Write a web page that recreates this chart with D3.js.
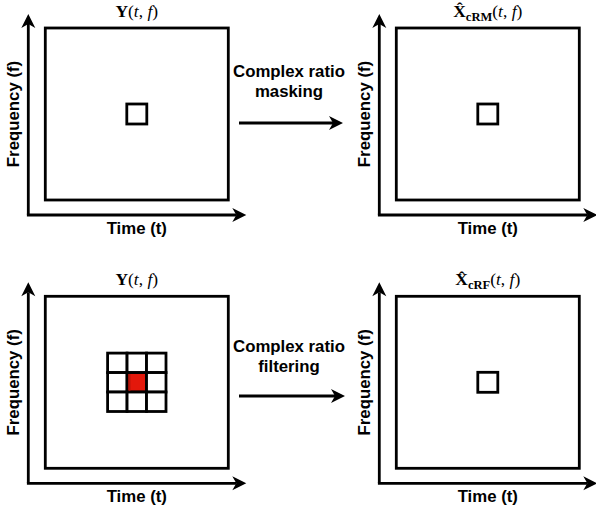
<!DOCTYPE html>
<html>
<head>
<meta charset="utf-8">
<script src="https://cdnjs.cloudflare.com/ajax/libs/d3/7.8.5/d3.min.js"></script>
<style>
  html, body { margin: 0; padding: 0; background: #fff; }
  svg { display: block; }
</style>
</head>
<body>
<svg id="chart" width="596" height="510"></svg>
<script>
// ---- data ----
const panelRows = ["mask", "filter"];
const panelCols = ["input", "output"];
const inputTitle = "Y";
const outputSubscripts = ["cRM", "cRF"];
const methodLines = [["Complex ratio", "masking"], ["Complex ratio", "filtering"]];
const xAxisLabel = "Time (t)";
const yAxisLabel = "Frequency (f)";
const gridIndex = [0, 1, 2];
const highlightCell = [1, 1];

// ---- layout ----
const svg = d3.select("#chart");
const cornerX = d3.scaleOrdinal().domain(panelCols).range([28.3, 379.3]);
const cornerY = d3.scaleOrdinal().domain(panelRows).range([215, 483.3]);
const methodTextY = d3.scaleOrdinal().domain(panelRows).range([77, 351.5]);
const methodArrowY = d3.scaleOrdinal().domain(panelRows).range([123, 396]);
const arrowTipX = d3.scaleOrdinal().domain(panelRows).range([343, 345]);

const RW = 183, RH = 172, ROX = 17, ROY = 187;
const SW = 2.8;
const sansFont = "'Liberation Sans', Arial, Helvetica, sans-serif";
const serifFont = "'Liberation Serif', 'Times New Roman', serif";

function arrowHead(g, tx, ty, dir) {
  const L = 14, W = 7, n = 4;
  let pts;
  if (dir === "right") pts = [[tx, ty], [tx - L, ty - W], [tx - L + n, ty], [tx - L, ty + W]];
  else pts = [[tx, ty], [tx - W, ty + L], [tx, ty + L - n], [tx + W, ty + L]];
  g.append("path").attr("d", d3.line()(pts) + "Z").attr("fill", "#000");
}

panelRows.forEach((row, ri) => {
  panelCols.forEach((col, ci) => {
    const cx = cornerX(col), cy = cornerY(row);
    const g = svg.append("g");
    // axes
    g.append("line").attr("x1", cx).attr("y1", cy).attr("x2", cx).attr("y2", cy - 201 + 10)
      .attr("stroke", "#000").attr("stroke-width", SW);
    arrowHead(g, cx, cy - 201, "up");
    g.append("line").attr("x1", cx - SW / 2).attr("y1", cy).attr("x2", cx + 218 - 10).attr("y2", cy)
      .attr("stroke", "#000").attr("stroke-width", SW);
    arrowHead(g, cx + 218, cy, "right");
    // frame
    const rx = cx + ROX, ry = cy - ROY;
    g.append("rect").attr("x", rx).attr("y", ry).attr("width", RW).attr("height", RH)
      .attr("fill", "none").attr("stroke", "#000").attr("stroke-width", SW);
    const mx = rx + RW / 2, my = ry + RH / 2;
    // inner content
    if (ri === 1 && ci === 0) {
      const cell = d3.scaleBand().domain(gridIndex).range([mx - 29.2, mx + 29.2]);
      const cellY = d3.scaleBand().domain(gridIndex).range([my - 29.2, my + 29.2]);
      const cells = [];
      gridIndex.forEach(r => gridIndex.forEach(c => cells.push([r, c])));
      g.selectAll("rect.cell").data(cells).enter().append("rect")
        .attr("class", "cell")
        .attr("x", d => cell(d[1])).attr("y", d => cellY(d[0]))
        .attr("width", cell.bandwidth()).attr("height", cellY.bandwidth())
        .attr("fill", d => (d[0] === highlightCell[0] && d[1] === highlightCell[1]) ? "#e3180b" : "#fff")
        .attr("stroke", "#000").attr("stroke-width", SW);
      // darker left shading of the highlighted cell
      g.append("rect")
        .attr("x", cell(highlightCell[1]) + SW / 2).attr("y", cellY(highlightCell[0]) + SW / 2)
        .attr("width", 2).attr("height", cellY.bandwidth() - SW)
        .attr("fill", "#b8160b");
    } else {
      g.append("rect").attr("x", mx - 10).attr("y", my - 10).attr("width", 20).attr("height", 20)
        .attr("fill", "none").attr("stroke", "#000").attr("stroke-width", SW);
    }
    // axis labels
    g.append("text").attr("x", mx).attr("y", cy + 18.5).attr("text-anchor", "middle")
      .attr("font-family", sansFont).attr("font-weight", "bold").attr("font-size", 16.8)
      .text(xAxisLabel);
    g.append("text").attr("transform", `translate(${cx - 9},${my}) rotate(-90)`)
      .attr("text-anchor", "middle")
      .attr("font-family", sansFont).attr("font-weight", "bold").attr("font-size", 16.8)
      .text(yAxisLabel);
    // title
    const t = g.append("text").attr("x", mx).attr("y", cy - 198).attr("text-anchor", "middle")
      .attr("font-family", serifFont).attr("font-size", 17.5);
    if (ci === 0) {
      t.append("tspan").attr("font-weight", "bold").text(inputTitle);
    } else {
      t.append("tspan").attr("font-weight", "bold").text("X\u0302");
      t.append("tspan").attr("font-weight", "bold").attr("font-size", 12.5).attr("dy", 3.5).text(outputSubscripts[ri]);
      t.append("tspan").attr("dy", -3.5).text("(");
    }
    if (ci === 0) t.append("tspan").text("(");
    t.append("tspan").attr("font-style", "italic").text("t");
    t.append("tspan").text(", ");
    t.append("tspan").attr("font-style", "italic").text("f");
    t.append("tspan").text(")");
  });

  // method text + arrow between panels
  const mg = svg.append("g");
  mg.selectAll("text").data(methodLines[ri]).enter().append("text")
    .attr("x", 289).attr("y", (d, i) => methodTextY(row) + i * 20)
    .attr("text-anchor", "middle")
    .attr("font-family", sansFont).attr("font-weight", "bold").attr("font-size", 16.8)
    .text(d => d);
  const tip = arrowTipX(row), ay = methodArrowY(row);
  mg.append("line").attr("x1", 239).attr("y1", ay).attr("x2", tip - 10).attr("y2", ay)
    .attr("stroke", "#000").attr("stroke-width", SW);
  arrowHead(mg, tip, ay, "right");
});
</script>
</body>
</html>
